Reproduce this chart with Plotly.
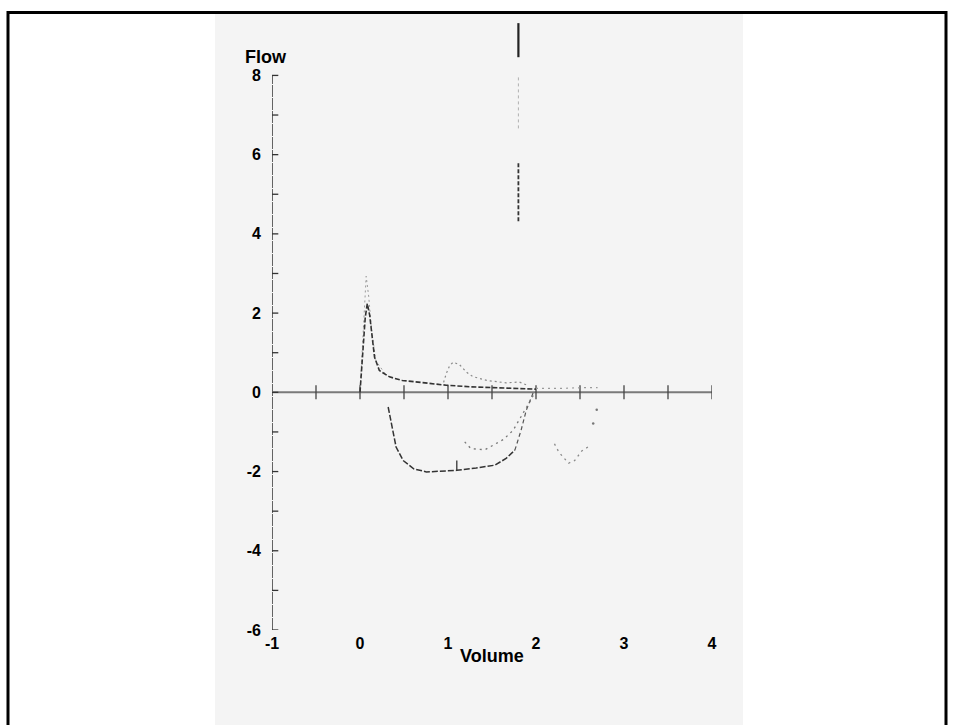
import plotly.graph_objects as go

# ---- axis labels / ticks ----
x_label_vals = [-1, 0, 1, 2, 3, 4]
y_label_vals = [-6, -4, -2, 0, 2, 4, 6, 8]
y_tick_marks = [-6, -5, -4, -3, -2, -1, 0, 1, 2, 3, 4, 5, 6, 7, 8]
x_tick_marks = [-0.5, 0, 0.5, 1, 1.5, 2, 2.5, 3, 3.5, 4]
y_axis_span = [-6, 8]

# ---- expiratory (positive flow) curves ----
exp_main_v = [0.0, 0.03, 0.06, 0.083, 0.11, 0.13, 0.165, 0.22, 0.335, 0.48, 0.71, 0.98, 1.25, 1.5, 1.75, 2.0]
exp_main_f = [0.0, 0.9, 1.9, 2.24, 1.95, 1.56, 0.89, 0.55, 0.39, 0.30, 0.24, 0.18, 0.14, 0.12, 0.11, 0.08]

exp_peak_v = [0.0, 0.04, 0.07, 0.10, 0.13, 0.18, 0.30]
exp_peak_f = [0.0, 1.5, 2.93, 2.4, 1.6, 0.8, 0.42]

hump_v = [0.95, 0.98, 1.02, 1.06, 1.13, 1.21, 1.28, 1.44, 1.66, 1.81, 1.9]
hump_f = [0.25, 0.47, 0.68, 0.76, 0.70, 0.51, 0.40, 0.30, 0.24, 0.26, 0.18]

tail_v = [2.0, 2.3, 2.55, 2.7]
tail_f = [0.10, 0.10, 0.12, 0.12]

# ---- inspiratory (negative flow) curves ----
insp_main_v = [0.32, 0.36, 0.41, 0.49, 0.61, 0.755, 0.94, 1.1, 1.32, 1.53, 1.66, 1.76]
insp_main_f = [-0.37, -0.79, -1.38, -1.72, -1.93, -2.01, -1.99, -1.97, -1.91, -1.84, -1.67, -1.46]

insp_rise_v = [1.76, 1.83, 1.89, 1.93, 1.97]
insp_rise_f = [-1.46, -0.96, -0.45, -0.20, 0.0]

insp2_v = [1.19, 1.26, 1.42, 1.51, 1.63, 1.74, 1.80, 1.86, 1.93, 1.98]
insp2_f = [-1.25, -1.42, -1.45, -1.34, -1.19, -0.96, -0.71, -0.50, -0.24, -0.03]

insp3_v = [2.21, 2.26, 2.37, 2.44, 2.52, 2.59]
insp3_f = [-1.30, -1.51, -1.79, -1.72, -1.48, -1.38]

stray_v = [2.65, 2.69]
stray_f = [-0.79, -0.44]

mark_v = [1.1, 1.1]
mark_f = [-1.72, -1.97]

# ---- vertical event marker ----
event_v = [1.80, 1.80]
event_top_f = [9.32, 8.46]
event_mid_f = [7.95, 6.6]
event_low_f = [5.78, 4.27]

fig = go.Figure()

def line(x, y, color, width, dash="solid"):
    fig.add_trace(go.Scatter(x=x, y=y, mode="lines",
                             line=dict(color=color, width=width, dash=dash),
                             hoverinfo="skip"))

# axis lines
line([-1, -1], y_axis_span, "#333333", 1.5, "12px,1px")
line([-1, 4], [0, 0], "#7a7a7a", 2)

# tick marks crossing the axes
fig.add_trace(go.Scatter(x=[-1] * len(y_tick_marks), y=y_tick_marks, mode="markers",
                         marker=dict(symbol="line-ew", size=9, line=dict(width=1.3, color="#333333")),
                         hoverinfo="skip"))
fig.add_trace(go.Scatter(x=x_tick_marks, y=[0] * len(x_tick_marks), mode="markers",
                         marker=dict(symbol="line-ns", size=10, line=dict(width=1.3, color="#444444")),
                         hoverinfo="skip"))

# curves
line(exp_peak_v, exp_peak_f, "#9a9a9a", 1, "2px,3px")
line(exp_main_v, exp_main_f, "#333333", 1.6, "5px,2px")
line(hump_v, hump_f, "#8a8a8a", 1.2, "2px,3px")
line(tail_v, tail_f, "#9a9a9a", 1.2, "2px,4px")
line(insp_main_v, insp_main_f, "#333333", 1.5, "6px,2px")
line(insp_rise_v, insp_rise_f, "#555555", 1.2, "4px,3px")
line(insp2_v, insp2_f, "#777777", 1.3, "2px,4px")
line(insp3_v, insp3_f, "#8a8a8a", 1.3, "2px,4px")
fig.add_trace(go.Scatter(x=stray_v, y=stray_f, mode="markers",
                         marker=dict(size=2.5, color="#777777"), hoverinfo="skip"))
line(mark_v, mark_f, "#333333", 1.3)
line(event_v, event_top_f, "#222222", 2.2)
line(event_v, event_mid_f, "#b0b0b0", 1, "dot")
line(event_v, event_low_f, "#333333", 1.8, "4px,2px")

W, H = 954, 725
L, R, T, B = 272, 242, 16, 95.4
pw, ph = W - L - R, H - T - B

def px(xpix):
    return (xpix - L) / pw

def py(ypix):
    return (H - B - ypix) / ph

fig.update_layout(
    width=W, height=H,
    margin=dict(l=L, r=R, t=T, b=B, pad=0),
    paper_bgcolor="white",
    plot_bgcolor="rgba(0,0,0,0)",
    showlegend=False,
    hovermode=False,
    font=dict(family="Liberation Sans, Arial, sans-serif", color="black"),
    xaxis=dict(range=[-1, 4], showgrid=False, zeroline=False, showline=False,
               tickvals=x_label_vals, ticktext=[str(v) for v in x_label_vals],
               ticks="", tickfont=dict(size=16, family="Liberation Sans, Arial", weight="bold"),
               ticklabelstandoff=2),
    yaxis=dict(range=[-6, 9.5], showgrid=False, zeroline=False, showline=False,
               tickvals=y_label_vals, ticktext=[str(v) for v in y_label_vals],
               ticks="", tickfont=dict(size=16, family="Liberation Sans, Arial", weight="bold"),
               ticklabelstandoff=10),
    shapes=[
        dict(type="rect", xref="paper", yref="paper", x0=px(215), x1=px(743),
             y0=py(740), y1=py(14), fillcolor="#f4f4f4", line=dict(width=0), layer="below"),
        dict(type="rect", xref="paper", yref="paper", x0=px(8), x1=px(946),
             y0=py(760), y1=py(12.5), fillcolor="rgba(0,0,0,0)",
             line=dict(width=3, color="black"), layer="above"),
    ],
    annotations=[
        dict(text="<b>Flow</b>", xref="paper", yref="paper", x=px(266), y=py(57),
             xanchor="center", yanchor="middle", showarrow=False,
             font=dict(size=18, family="Liberation Sans, Arial")),
        dict(text="<b>Volume</b>", xref="paper", yref="paper", x=px(492), y=py(656),
             xanchor="center", yanchor="middle", showarrow=False,
             font=dict(size=18, family="Liberation Sans, Arial")),
    ],
)

fig.write_html("out.html")
